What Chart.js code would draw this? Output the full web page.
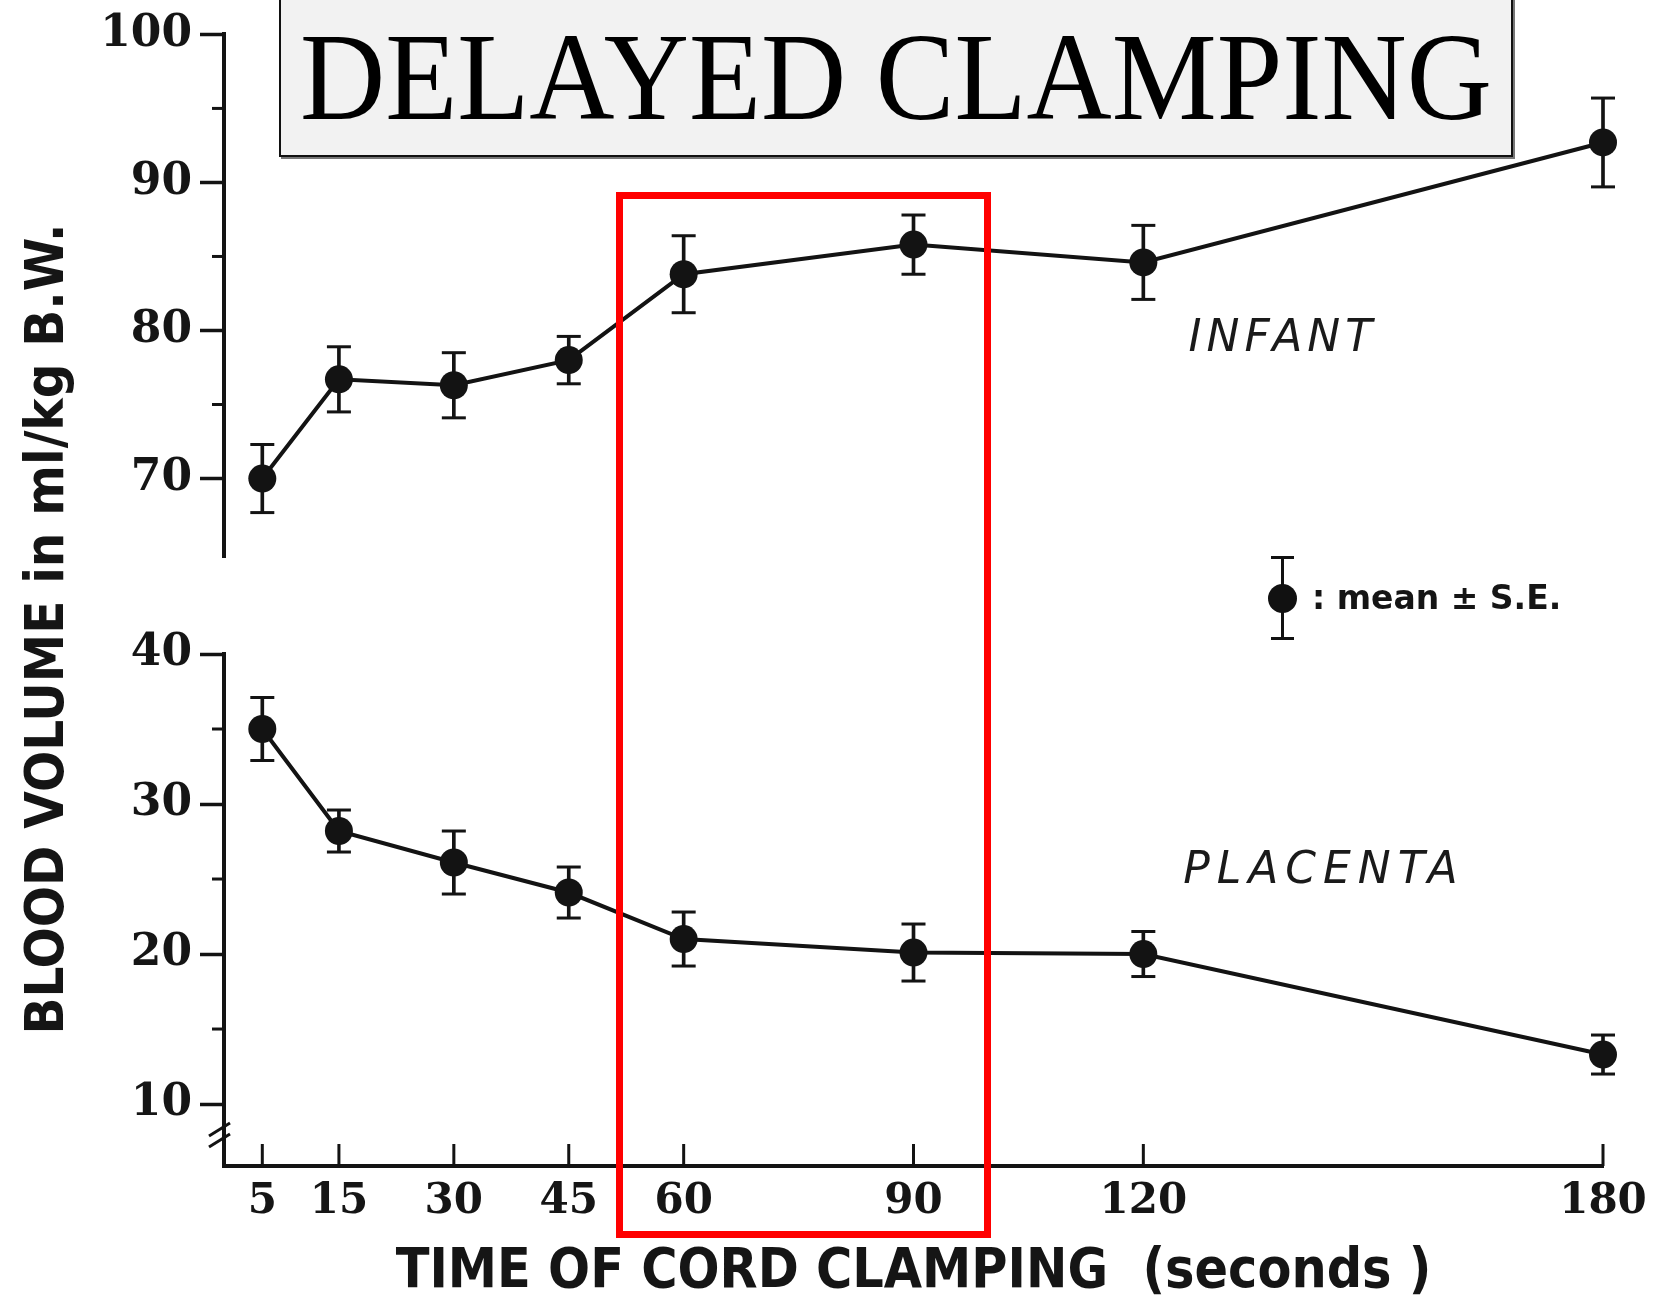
<!DOCTYPE html>
<html>
<head>
<meta charset="utf-8">
<script src="https://cdn.jsdelivr.net/npm/chart.js@4.4.1/dist/chart.umd.min.js"></script>
<style>
  body { margin: 0; background: #fff; width: 1665px; height: 1306px; position: relative; overflow: hidden; }
  canvas { position: absolute; left: 0; }
  #topChart { top: 0; }
  #botChart { top: 600px; }
  .titleBox { position: absolute; left: 279px; top: -3px; width: 1234px; height: 160px; box-sizing: border-box;
    background: #f2f2f2; border: 2px solid #111; box-shadow: 2px 2px 0 #777; }
  .titleText { position: absolute; left: 279px; width: 1234px; top: 21px; text-align: center;
    font-family: "Liberation Serif", "Times New Roman", serif; font-size: 118px; line-height: 118px; color: #000;
    white-space: nowrap; transform: scaleY(1.05); transform-origin: 50% 85%; }
  .yTitle { position: absolute; left: -405px; top: 599px; width: 900px; height: 60px; line-height: 60px; text-align: center;
    transform: rotate(-90deg); font-family: "DejaVu Sans Condensed", "DejaVu Sans", sans-serif; font-stretch: condensed;
    font-weight: bold; font-size: 54px; color: #151515; white-space: nowrap; }
  .redBox { position: absolute; left: 616px; top: 192px; width: 375px; height: 1046px; box-sizing: border-box; border: 7px solid #ff0000; }
  .legend { position: absolute; left: 1268px; top: 556px; width: 320px; height: 86px; }
  .legend .bar { position: absolute; left: 13px; top: 0; width: 3px; height: 84px; background: #111; }
  .legend .cap { position: absolute; left: 3px; width: 23px; height: 3px; background: #111; }
  .legend .dot { position: absolute; left: 0; top: 28px; width: 29px; height: 29px; border-radius: 50%; background: #111; }
  .legend .txt { position: absolute; left: 44px; top: 22px; font-family: "DejaVu Sans", sans-serif; font-weight: bold;
    font-size: 33px; line-height: 40px; color: #151515; white-space: nowrap; }
</style>
</head>
<body>
<canvas id="topChart" width="1665" height="600"></canvas>
<canvas id="botChart" width="1665" height="706"></canvas>
<div class="titleBox"></div>
<div class="titleText">DELAYED CLAMPING</div>
<div class="yTitle">BLOOD VOLUME in ml/kg B.W.</div>
<div class="legend">
  <div class="bar"></div><div class="cap" style="top:0"></div><div class="cap" style="top:81px"></div>
  <div class="dot"></div>
  <div class="txt">: mean ± S.E.</div>
</div>
<div class="redBox"></div>
<script>
// time of cord clamping, seconds
const times = [5, 15, 30, 45, 60, 90, 120, 180];
// blood volume, ml/kg body weight
const infantMean = [70.0, 76.7, 76.3, 78.0, 83.8, 85.8, 84.6, 92.7];
const infantSE = [2.3, 2.2, 2.2, 1.6, 2.6, 2.0, 2.5, 3.0];
const placentaMean = [35.0, 28.2, 26.1, 24.1, 21.0, 20.1, 20.0, 13.3];
const placentaSE = [2.1, 1.4, 2.1, 1.7, 1.8, 1.9, 1.5, 1.3];
// axis ticks
const topTicks = [70, 80, 90, 100];
const topMinor = [75, 85, 95];
const botTicks = [10, 20, 30, 40];
const botMinor = [15, 25, 35];

const ink = "#131313";
const serif = "'DejaVu Serif', serif";
const condensed = "'DejaVu Sans Condensed', 'DejaVu Sans', sans-serif";

function seriesSets(mean, se) {
    const pts = times.map((t, i) => ({ x: t, y: mean[i] }));
    const bars = times.map((t, i) => ({ x: t, y: [mean[i] - se[i], mean[i] + se[i]] }));
    const caps = times.flatMap((t, i) => [{ x: t, y: mean[i] + se[i] }, { x: t, y: mean[i] - se[i] }]);
    return [
        { type: "line", data: pts, borderColor: ink, backgroundColor: ink, borderWidth: 4,
          pointRadius: 14, pointBackgroundColor: ink, pointBorderWidth: 0, tension: 0, clip: false, order: 0 },
        { type: "bar", data: bars, backgroundColor: ink, borderWidth: 0, barThickness: 3, clip: false, order: 1 },
        { type: "scatter", data: caps, pointStyle: "line", pointRadius: 12, borderColor: ink, borderWidth: 3,
          showLine: false, clip: false, order: 2 }
    ];
}

// minor ticks, inward x ticks, axis break and series names
const axisMarks = {
    id: "axisMarks",
    afterDraw(chart, args, opts) {
        const { ctx, chartArea } = chart;
        const x = chart.scales.x;
        const y = chart.scales.y;
        ctx.save();
        ctx.strokeStyle = ink;
        ctx.lineWidth = 3;
        opts.minor.forEach(v => {
            const py = y.getPixelForValue(v);
            ctx.beginPath();
            ctx.moveTo(chartArea.left - 12, py);
            ctx.lineTo(chartArea.left, py);
            ctx.stroke();
        });
        if (opts.xTicks) {
            opts.xTicks.forEach(v => {
                const px = x.getPixelForValue(v);
                ctx.beginPath();
                ctx.moveTo(px, chartArea.bottom);
                ctx.lineTo(px, chartArea.bottom - 22);
                ctx.stroke();
            });
        }
        if (opts.breakAt) {
            const py = y.getPixelForValue(opts.breakAt);
            const l = chartArea.left;
            [0, 11].forEach(d => {
                ctx.beginPath();
                ctx.moveTo(l - 15, py + d + 5);
                ctx.lineTo(l + 6, py + d - 8);
                ctx.stroke();
            });
        }
        if (opts.label) {
            ctx.fillStyle = "#1a1a1a";
            ctx.font = "italic 44px 'DejaVu Sans', sans-serif";
            ctx.letterSpacing = opts.label.spacing + "px";
            ctx.textBaseline = "middle";
            ctx.textAlign = "left";
            ctx.fillText(opts.label.text, x.getPixelForValue(opts.label.x), y.getPixelForValue(opts.label.y));
        }
        ctx.restore();
    }
};

function makeChart(id, datasets, yMin, yMax, yTicks, padding, xOpts, marks) {
    return new Chart(document.getElementById(id), {
        type: "line",
        data: { datasets },
        plugins: [axisMarks],
        options: {
            responsive: false,
            animation: false,
            layout: { padding },
            plugins: { legend: { display: false }, tooltip: { enabled: false }, axisMarks: marks },
            scales: {
                x: xOpts,
                y: {
                    type: "linear",
                    min: yMin,
                    max: yMax,
                    afterBuildTicks: axis => { axis.ticks = yTicks.map(v => ({ value: v })); },
                    afterFit: scale => { scale.width = 140; },
                    grid: { display: true, drawOnChartArea: false, drawTicks: true, tickLength: 24, tickWidth: 3.5, tickColor: ink },
                    border: { display: true, color: ink, width: 4 },
                    ticks: { color: "#151515", padding: 8, font: { family: serif, size: 44, weight: "bold" },
                             callback: v => String(v) }
                }
            }
        }
    });
}

makeChart("topChart", seriesSets(infantMean, infantSE), 64.7, 100, topTicks,
    { left: 84, right: 62, top: 32, bottom: 43 },
    { type: "linear", min: 0, max: 180, offset: false, display: false },
    { minor: topMinor, label: { text: "INFANT", x: 125.9, y: 79.4, spacing: 5 } });

makeChart("botChart", seriesSets(placentaMean, placentaSE), 5.87, 40, botTicks,
    { left: 84, right: 62, top: 54, bottom: 0 },
    {
        type: "linear", min: 0, max: 180, offset: false,
        afterBuildTicks: axis => { axis.ticks = times.map(v => ({ value: v })); },
        afterFit: scale => { scale.height = 140; },
        grid: { display: false, drawTicks: false, offset: false },
        border: { display: true, color: ink, width: 4 },
        ticks: { color: "#151515", padding: 11, maxRotation: 0, autoSkip: false,
                 font: { family: serif, size: 42, weight: "bold" }, callback: v => String(v) },
        title: { display: true, text: "TIME OF CORD CLAMPING  (seconds )", color: "#151515", padding: 0,
                 font: { family: condensed, size: 55, weight: "bold" } }
    },
    { minor: botMinor, xTicks: times, breakAt: 8.2, label: { text: "PLACENTA", x: 125.2, y: 25.5, spacing: 7 } });
</script>
</body>
</html>
